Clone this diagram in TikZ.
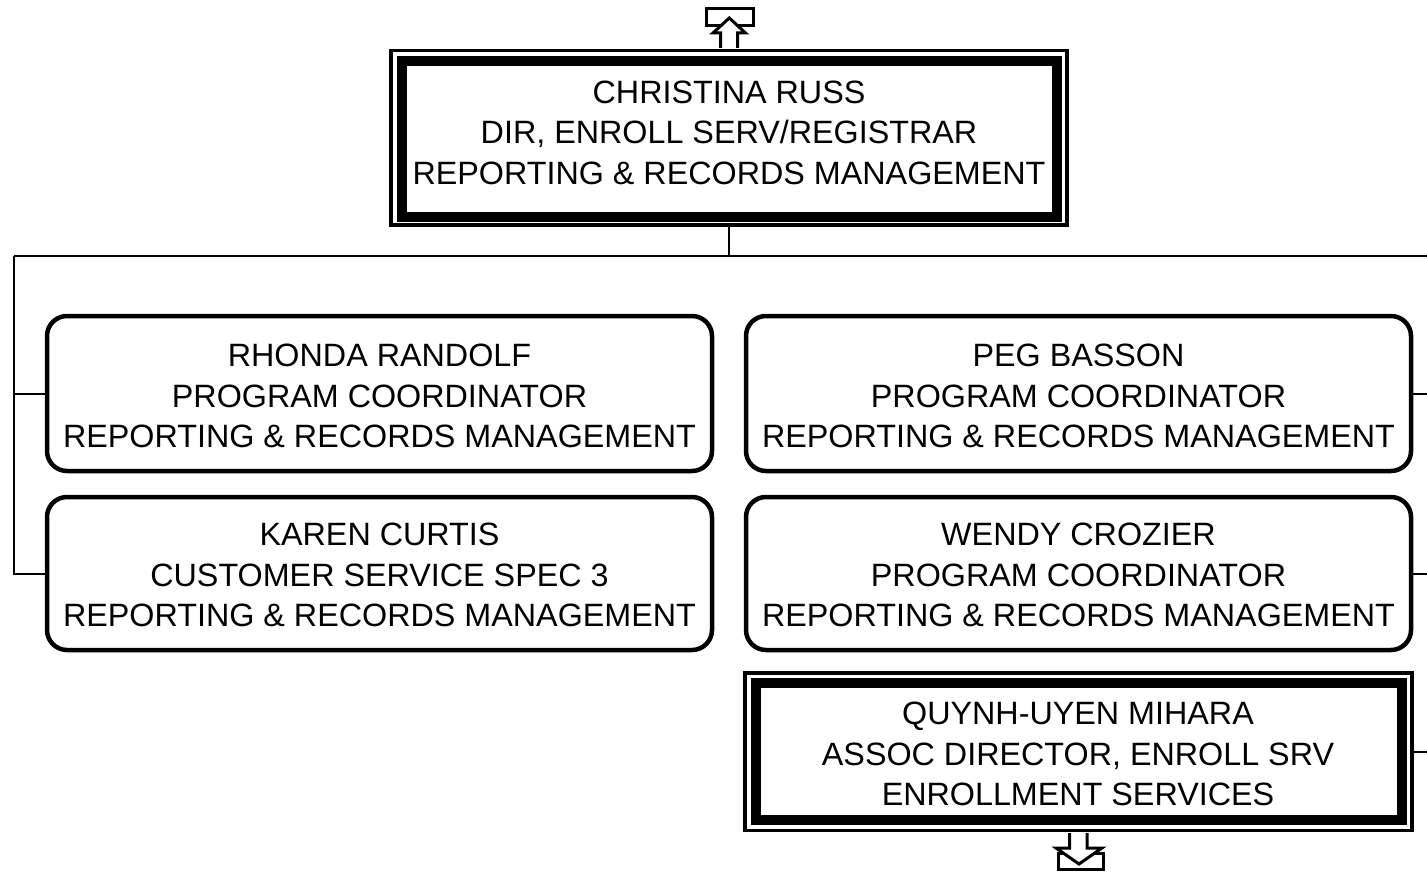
\documentclass[tikz,border=0pt]{standalone}
\usepackage{fontspec}
\setmainfont{Liberation Sans}
\begin{document}
\begin{tikzpicture}[x=1pt,y=-1pt,
  lbl/.style={align=center, font=\fontsize{32.3}{40.5}\selectfont, inner sep=0pt},
  rbox/.style={draw, line width=4.5pt, rounded corners=20pt, inner sep=0pt},
  outerb/.style={draw, line width=3.5pt, inner sep=0pt},
  innerb/.style={draw, line width=10pt, inner sep=0pt},
  conn/.style={line width=2pt},
  flow/.style={draw, line width=3pt, fill=white, line join=miter}]
\useasboundingbox (0,0) rectangle (1427,872);
% top box
\node[outerb, minimum width=676pt, minimum height=174.5pt] (top) at (729,137.75) {};
\node[innerb, minimum width=655pt, minimum height=155pt] (topin) at (729.5,139) {};
\node[lbl] (toptxt) at (729,132.5) {CHRISTINA RUSS\\DIR, ENROLL SERV/REGISTRAR\\REPORTING \& RECORDS MANAGEMENT};
% rounded boxes
\node[rbox, minimum width=665pt, minimum height=155pt] (rhonda) at (379.5,393.5) {};
\node[lbl] at (rhonda.center) [yshift=-2.5pt] {RHONDA RANDOLF\\PROGRAM COORDINATOR\\REPORTING \& RECORDS MANAGEMENT};
\node[rbox, minimum width=665pt, minimum height=153pt] (karen) at (379.5,573.5) {};
\node[lbl] at (karen.center) [yshift=-1.5pt] {KAREN CURTIS\\CUSTOMER SERVICE SPEC 3\\REPORTING \& RECORDS MANAGEMENT};
\node[rbox, minimum width=665pt, minimum height=155pt] (peg) at (1078.5,393.5) {};
\node[lbl] at (peg.center) [yshift=-2.5pt] {PEG BASSON\\PROGRAM COORDINATOR\\REPORTING \& RECORDS MANAGEMENT};
\node[rbox, minimum width=665pt, minimum height=153pt] (wendy) at (1078.5,573.5) {};
\node[lbl] at (wendy.center) [yshift=-1.5pt] {WENDY CROZIER\\PROGRAM COORDINATOR\\REPORTING \& RECORDS MANAGEMENT};
% quynh box
\node[outerb, minimum width=667pt, minimum height=157.5pt] (quynh) at (1078.5,751.75) {};
\node[innerb, minimum width=646.5pt, minimum height=137pt] (quynhin) at (1078.75,751.5) {};
\node[lbl] at (1078,754) {QUYNH-UYEN MIHARA\\ASSOC DIRECTOR, ENROLL SRV\\ENROLLMENT SERVICES};
% connectors
\coordinate (busL) at (14,255.5);
\coordinate (busR) at (1427,255.5);
\coordinate (busT) at (729,255.5);
\draw[conn] (top.south) -- (busT);
\draw[conn] (busL) -- (busR);
\draw[conn] (busL) |- (rhonda.west);
\draw[conn] (busL) |- (karen.west);
\draw[conn] (peg.east) -- (peg.east -| busR);
\draw[conn] (wendy.east) -- (wendy.east -| busR);
\draw[conn] (quynh.east) -- (quynh.east -| busR);
% top arrow
\draw[line width=3pt] (706,8.5) rectangle (753,25.5);
\draw[flow] (720.5,48) -- (720.5,33) -- (713,33) -- (729.3,18) -- (745.5,33) -- (737.5,33) -- (737.5,48);
% bottom arrow
\draw[line width=3pt] (1058,853.5) rectangle (1103,869.5);
\draw[flow] (1069.5,833) -- (1069.5,848) -- (1056,848) -- (1079,864) -- (1102,848) -- (1087,848) -- (1087,833);
\end{tikzpicture}
\end{document}
